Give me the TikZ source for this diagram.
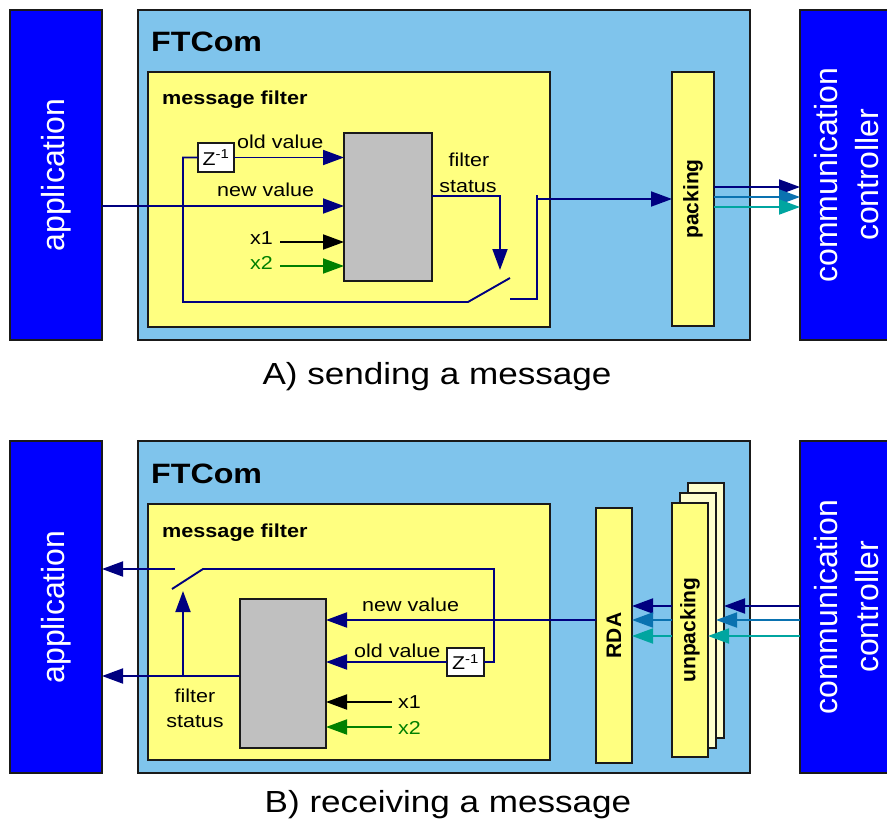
\documentclass[tikz,border=0pt]{standalone}
\usepackage{fontspec}
\setmainfont{Liberation Sans}[FakeStretch=1.15]
\newfontfamily\plainfont{Liberation Sans}
\usetikzlibrary{arrows.meta}

\definecolor{hostblue}{HTML}{0000FF}
\definecolor{ftblue}{HTML}{7FC4EC}
\definecolor{filteryellow}{HTML}{FFFF80}
\definecolor{paleyellow}{HTML}{FFFFCC}
\definecolor{boxgray}{HTML}{C0C0C0}
\definecolor{sigA}{HTML}{000080}
\definecolor{sigB}{HTML}{0A72B0}
\definecolor{sigC}{HTML}{00A5A0}
\definecolor{sigX}{HTML}{008000}
\definecolor{edgecol}{HTML}{1A1A1A}

\tikzset{
  blk/.style={draw=edgecol, line width=1.5pt, inner sep=0pt, outer sep=0pt},
  hostbox/.style={blk, fill=hostblue},
  ftbox/.style={blk, fill=ftblue},
  yelbox/.style={blk, fill=filteryellow},
  palebox/.style={blk, fill=paleyellow},
  graybox/.style={blk, fill=boxgray},
  delaybox/.style={blk, fill=white, font=\fontsize{18.5}{20}\selectfont},
  sz/.style 2 args={minimum width=#1pt, minimum height=#2pt},
  sig/.style={draw=sigA, line width=1.9pt},
  tip/.style={-{Triangle[length=21pt,width=15pt]}},
  lbl/.style={inner sep=0pt, font=\fontsize{18.7}{22}\selectfont},
  blbl/.style={inner sep=0pt, font=\fontsize{18.8}{22}\selectfont\bfseries},
  vlbl/.style={inner sep=0pt, rotate=90, font=\plainfont\fontsize{21}{24}\selectfont\bfseries},
  hostlbl/.style={inner sep=0pt, rotate=90, text=white, align=center,
    font=\plainfont\fontsize{32}{41}\selectfont},
  titlelbl/.style={inner sep=0pt, font=\fontsize{28}{30}\selectfont\bfseries},
  caption/.style={inner sep=0pt, font=\fontsize{30.5}{32}\selectfont},
}

\begin{document}
\begin{tikzpicture}[x=1pt, y=-1pt]
\useasboundingbox (0,0) rectangle (887,828);

% ---------------- A) sending ----------------
\node[hostbox, sz={92}{330}] (app1) at (56,175) {};
\node[ftbox, sz={612}{330}] (ft1) at (444,175) {};
\node[hostbox, sz={92}{330}] (cc1) at (846,175) {};
\node[yelbox, sz={402}{255}] (mf1) at (349,199.5) {};
\node[graybox, sz={88}{148}] (gray1) at (388,207) {};
\node[delaybox, sz={36}{29}] (z1) at (216,157.5) {Z\textsuperscript{-1}};
\node[yelbox, sz={42}{254}] (pack) at (693,199) {};

\node[hostlbl] (app1t) at (app1.center) {application};
\node[hostlbl] (cc1t) at (847,175) {communication\\controller};
\node[titlelbl, anchor=west] (ft1t) at (151,42) {FTCom};
\node[blbl, anchor=base west] (mf1t) at (162,104) {message filter};
\node[vlbl] (pack1t) at (pack.center) {packing};

% switch contacts
\coordinate (sa1) at (183,302);
\coordinate (sa2) at (468,302);
\coordinate (sa3) at (510,278);
\coordinate (sa4) at (510,299);
\coordinate (sa5) at (537,299);
\coordinate (sa6) at (537,199);
\coordinate (fs1) at (500,270);

% new value input
\draw[sig, tip] (app1.east |- 0,206) -- (gray1.west |- 0,206);
\node[lbl, anchor=base west] (nv1) at (217,196) {new value};
% old value via delay
\draw[sig, tip] (z1.east) -- (gray1.west |- z1.east);
\node[lbl, anchor=base west] (ov1) at (237,148) {old value};
% feedback of the sent value through the switch
\draw[sig] (z1.west) -| (sa1) -- (sa2) -- (sa3);
\draw[sig] (sa4) -- (sa5) -- (537,195);
\draw[sig, tip] (sa6) -- (pack.west |- sa6);
% filter status drives the switch
\draw[sig, tip] (gray1.east |- 0,196) -| (fs1);
\node[lbl, anchor=base] (fs1a) at (469,166) {filter};
\node[lbl, anchor=base] (fs1b) at (468,192) {status};
% extra inputs
\coordinate (x1a) at (280,242);
\coordinate (x2a) at (280,266);
\draw[line width=1.9pt, draw=black, tip] (x1a) -- (gray1.west |- x1a);
\draw[line width=1.9pt, draw=sigX, tip] (x2a) -- (gray1.west |- x2a);
\node[lbl, anchor=base west] (x1t) at (250,244) {x1};
\node[lbl, anchor=base west, text=sigX] (x2t) at (250,269) {x2};
% frames to the controller
\draw[sig, tip] (pack.east |- 0,187) -- (cc1.west |- 0,187);
\draw[sig, draw=sigB, tip] (pack.east |- 0,197) -- (cc1.west |- 0,197);
\draw[sig, draw=sigC, tip] (pack.east |- 0,207) -- (cc1.west |- 0,207);

\node[caption] (capA) at (437,377) {A) sending a message};

% ---------------- B) receiving ----------------
\node[hostbox, sz={92}{332}] (app2) at (56,607) {};
\node[ftbox, sz={612}{332}] (ft2) at (444,607) {};
\node[hostbox, sz={92}{332}] (cc2) at (846,607) {};
\node[yelbox, sz={402}{256}] (mf2) at (349,632) {};
\node[graybox, sz={86}{149}] (gray2) at (283,673.5) {};
\node[delaybox, sz={37}{28}] (z2) at (465.5,662) {Z\textsuperscript{-1}};
\node[yelbox, sz={36}{255}] (rda) at (614,635.5) {};
\node[palebox, sz={36}{255}] (unp3) at (706,610.5) {};
\node[palebox, sz={36}{255}] (unp2) at (698,620.5) {};
\node[yelbox, sz={36}{254}] (unp1) at (690,630) {};

\node[hostlbl] (app2t) at (app2.center) {application};
\node[hostlbl] (cc2t) at (847,607) {communication\\controller};
\node[titlelbl, anchor=west] (ft2t) at (151,474) {FTCom};
\node[blbl, anchor=base west] (mf2t) at (162,537) {message filter};
\node[vlbl] (rdat) at (rda.center) {RDA};
\node[vlbl] (unpt) at (unp1.center) {unpacking};

\coordinate (sb1) at (494,569);
\coordinate (sb2) at (203,569);
\coordinate (sb3) at (172,589);
\coordinate (sb4) at (175,569);
\coordinate (fs2) at (183,591);
\coordinate (fs2b) at (183,676);

% new value from the RDA
\draw[sig, tip] (rda.west |- 0,620) -- (gray2.east |- 0,620);
\node[lbl, anchor=base west] (nv2) at (362,611) {new value};
% old value via delay
\draw[sig, tip] (z2.west) -- (gray2.east |- z2.west);
\node[lbl, anchor=base west] (ov2) at (354,657) {old value};
% feedback of the delivered value through the switch
\draw[sig] (z2.east) -| (sb1) -- (sb2) -- (sb3);
\draw[sig, tip] (sb4) -- (app2.east |- sb4);
% filter status to the application and to the switch
\draw[sig, tip] (gray2.west |- fs2b) -- (app2.east |- fs2b);
\draw[sig, tip] (fs2b) -- (fs2);
\node[lbl, anchor=base] (fs2a) at (195,702) {filter};
\node[lbl, anchor=base] (fs2c) at (195,727) {status};
% extra inputs
\coordinate (x1b) at (392,702);
\coordinate (x2b) at (392,727);
\draw[line width=1.9pt, draw=black, tip] (x1b) -- (gray2.east |- x1b);
\draw[line width=1.9pt, draw=sigX, tip] (x2b) -- (gray2.east |- x2b);
\node[lbl, anchor=base west] (x1u) at (398,708) {x1};
\node[lbl, anchor=base west, text=sigX] (x2u) at (398,734) {x2};
% frames from the controller into the unpacking stages
\draw[sig, tip] (cc2.west |- 0,606) -- (unp3.east |- 0,606);
\draw[sig, draw=sigB, tip] (cc2.west |- 0,620) -- (unp2.east |- 0,620);
\draw[sig, draw=sigC, tip] (cc2.west |- 0,636) -- (unp1.east |- 0,636);
% unpacked values into the RDA
\draw[sig, tip] (unp1.west |- 0,606) -- (rda.east |- 0,606);
\draw[sig, draw=sigB, tip] (unp1.west |- 0,620) -- (rda.east |- 0,620);
\draw[sig, draw=sigC, tip] (unp1.west |- 0,636) -- (rda.east |- 0,636);

\node[caption] (capB) at (448,805) {B) receiving a message};
\end{tikzpicture}
\end{document}
